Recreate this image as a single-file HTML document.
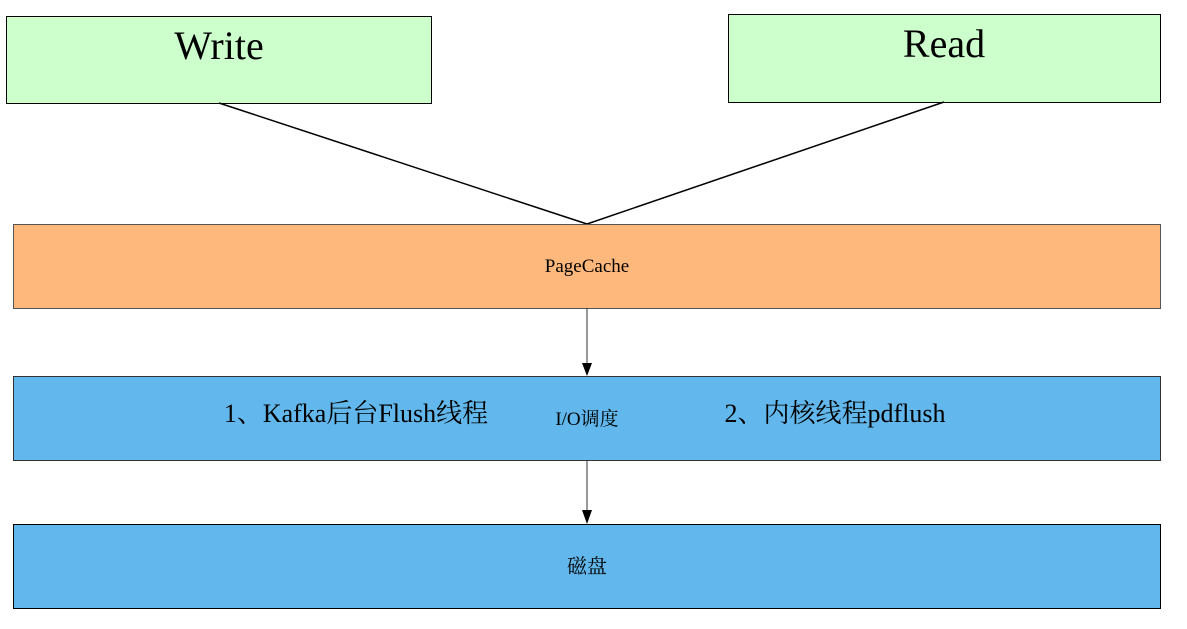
<!DOCTYPE html>
<html><head><meta charset="utf-8"><style>
html,body{margin:0;padding:0;background:#fff;}
svg text{font-family:"Liberation Serif","Noto Serif CJK SC",serif;fill:#000;}
</style></head><body>
<svg width="1187" height="624" viewBox="0 0 1187 624" xmlns="http://www.w3.org/2000/svg">
<defs><marker id="a" markerWidth="10" markerHeight="12" refX="5" refY="12" orient="auto" markerUnits="userSpaceOnUse"><path d="M0,0 L10,0 L5,12 Z" fill="#000" transform="rotate(-90 5 6) translate(0,0)"/></marker></defs>
<rect x="6.5" y="16.5" width="425" height="87" fill="#ccffcc" stroke="#000"/>
<rect x="728.5" y="14.5" width="432" height="88" fill="#ccffcc" stroke="#000"/>
<text x="219" y="59" font-size="40" text-anchor="middle">Write</text>
<text x="944" y="57" font-size="40" text-anchor="middle">Read</text>
<line x1="219" y1="103" x2="587" y2="224" stroke="#000" stroke-width="1.5"/>
<line x1="944" y1="102" x2="587" y2="224" stroke="#000" stroke-width="1.5"/>
<rect x="13.5" y="224.5" width="1147" height="84" fill="#ffb87b" stroke="#555"/>
<text x="587" y="272" font-size="19" text-anchor="middle" style="font-family:'Liberation Serif','Noto Serif CJK SC',serif">PageCache</text>
<line x1="587" y1="308" x2="587" y2="365" stroke="#333"/>
<path d="M582,363 L592,363 L587,376 Z" fill="#000"/>
<rect x="13.5" y="376.5" width="1147" height="84" fill="#62b8ec" stroke="#333"/>
<text x="356" y="422" font-size="26" text-anchor="middle">1、Kafka后台Flush线程</text>
<text x="587" y="425" font-size="19" text-anchor="middle">I/O调度</text>
<text x="835" y="422" font-size="26" text-anchor="middle">2、内核线程pdflush</text>
<line x1="587" y1="461" x2="587" y2="512" stroke="#333"/>
<path d="M582,510 L592,510 L587,524 Z" fill="#000"/>
<rect x="13.5" y="524.5" width="1147" height="84" fill="#62b8ec" stroke="#000"/>
<text x="587" y="573" font-size="20" text-anchor="middle">磁盘</text>
</svg>
</body></html>
